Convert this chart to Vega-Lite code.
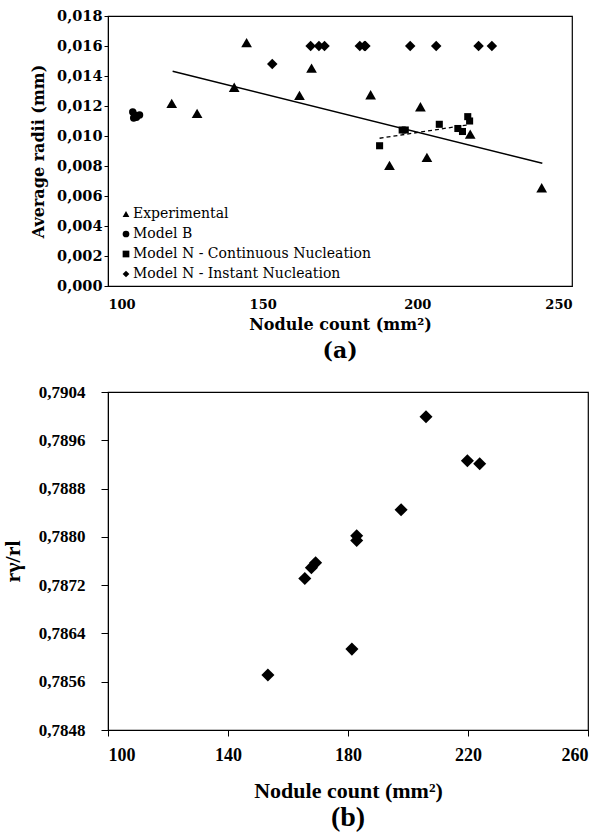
{
  "$schema": "https://vega.github.io/schema/vega-lite/v6.json",
  "background": "white",
  "padding": {"left": 0, "top": 7, "right": 10, "bottom": 2},
  "spacing": 19,
  "config": {
    "font": "Liberation Serif",
    "view": {"stroke": "black", "strokeWidth": 1.2},
    "axis": {"grid": false, "domainColor": "black", "tickColor": "black", "labelColor": "black", "titleColor": "black", "labelFontWeight": "bold", "titleFontWeight": "bold", "labelOverlap": false}
  },
  "datasets": {
    "radii": [
      {"series": "Experimental", "nodules": 120.6, "radius": 0.01218},
      {"series": "Experimental", "nodules": 128.8, "radius": 0.01151},
      {"series": "Experimental", "nodules": 140.8, "radius": 0.01325},
      {"series": "Experimental", "nodules": 144.8, "radius": 0.01622},
      {"series": "Experimental", "nodules": 161.9, "radius": 0.01271},
      {"series": "Experimental", "nodules": 165.8, "radius": 0.01453},
      {"series": "Experimental", "nodules": 184.9, "radius": 0.01275},
      {"series": "Experimental", "nodules": 191.0, "radius": 0.00804},
      {"series": "Experimental", "nodules": 201.0, "radius": 0.01195},
      {"series": "Experimental", "nodules": 203.1, "radius": 0.00858},
      {"series": "Experimental", "nodules": 217.1, "radius": 0.01013},
      {"series": "Experimental", "nodules": 240.2, "radius": 0.00655},
      {"series": "Model B", "nodules": 108.0, "radius": 0.01160},
      {"series": "Model B", "nodules": 108.3, "radius": 0.01120},
      {"series": "Model B", "nodules": 108.6, "radius": 0.01140},
      {"series": "Model B", "nodules": 109.2, "radius": 0.01125},
      {"series": "Model B", "nodules": 110.2, "radius": 0.01140},
      {"series": "Model N - Continuous Nucleation", "nodules": 187.8, "radius": 0.00935},
      {"series": "Model N - Continuous Nucleation", "nodules": 195.1, "radius": 0.01040},
      {"series": "Model N - Continuous Nucleation", "nodules": 196.1, "radius": 0.01040},
      {"series": "Model N - Continuous Nucleation", "nodules": 207.1, "radius": 0.01078},
      {"series": "Model N - Continuous Nucleation", "nodules": 213.1, "radius": 0.01050},
      {"series": "Model N - Continuous Nucleation", "nodules": 214.6, "radius": 0.01030},
      {"series": "Model N - Continuous Nucleation", "nodules": 216.3, "radius": 0.01129},
      {"series": "Model N - Continuous Nucleation", "nodules": 216.9, "radius": 0.01100},
      {"series": "Model N - Instant Nucleation", "nodules": 153.1, "radius": 0.0148},
      {"series": "Model N - Instant Nucleation", "nodules": 165.5, "radius": 0.0160},
      {"series": "Model N - Instant Nucleation", "nodules": 168.2, "radius": 0.0160},
      {"series": "Model N - Instant Nucleation", "nodules": 170.0, "radius": 0.0160},
      {"series": "Model N - Instant Nucleation", "nodules": 181.4, "radius": 0.0160},
      {"series": "Model N - Instant Nucleation", "nodules": 182.9, "radius": 0.0160},
      {"series": "Model N - Instant Nucleation", "nodules": 183.2, "radius": 0.0160},
      {"series": "Model N - Instant Nucleation", "nodules": 197.7, "radius": 0.0160},
      {"series": "Model N - Instant Nucleation", "nodules": 206.1, "radius": 0.0160},
      {"series": "Model N - Instant Nucleation", "nodules": 219.8, "radius": 0.0160},
      {"series": "Model N - Instant Nucleation", "nodules": 224.1, "radius": 0.0160}
    ],
    "trendExp": [
      {"nodules": 120.9, "radius": 0.01431},
      {"nodules": 240.4, "radius": 0.00818}
    ],
    "trendCont": [
      {"nodules": 187.8, "radius": 0.00985},
      {"nodules": 216.0, "radius": 0.01073}
    ],
    "ratio": [
      {"nodules": 153.3, "ratio": 0.78571},
      {"nodules": 165.6, "ratio": 0.78731},
      {"nodules": 167.8, "ratio": 0.78749},
      {"nodules": 169.2, "ratio": 0.78757},
      {"nodules": 181.3, "ratio": 0.78614},
      {"nodules": 182.9, "ratio": 0.78802},
      {"nodules": 182.9, "ratio": 0.78794},
      {"nodules": 197.7, "ratio": 0.78845},
      {"nodules": 206.0, "ratio": 0.78999},
      {"nodules": 219.8, "ratio": 0.78926},
      {"nodules": 223.9, "ratio": 0.78921}
    ]
  },
  "vconcat": [
    {
      "width": 464,
      "height": 270,
      "title": {"text": "(a)", "orient": "bottom", "anchor": "middle", "font": "DejaVu Serif", "fontSize": 22, "fontWeight": "bold", "color": "black", "offset": 9},
      "encoding": {
        "x": {"field": "nodules", "type": "quantitative", "scale": {"domain": [100, 250], "nice": false, "zero": false},
          "axis": {"values": [100, 150, 200, 250], "title": "Nodule count (mm²)", "ticks": false, "labelOverlap": false, "labelPadding": 12, "labelFont": "DejaVu Serif", "labelFontSize": 13, "titleFont": "DejaVu Serif", "titleFontSize": 16, "titlePadding": 5}},
        "y": {"field": "radius", "type": "quantitative", "scale": {"domain": [0, 0.018], "nice": false},
          "axis": {"values": [0, 0.002, 0.004, 0.006, 0.008, 0.010, 0.012, 0.014, 0.016, 0.018], "labelExpr": "replace(format(datum.value, '.3f'), '.', ',')", "labelOverlap": false, "labelBound": false, "title": "Average radii  (mm)", "tickSize": 4, "labelPadding": 2, "labelFont": "DejaVu Serif", "labelFontSize": 14.5, "titleFont": "DejaVu Serif", "titleFontSize": 16, "titlePadding": 10}}
      },
      "layer": [
        {
          "data": {"name": "trendExp"},
          "mark": {"type": "line", "color": "black", "strokeWidth": 1.5}
        },
        {
          "data": {"name": "trendCont"},
          "mark": {"type": "line", "color": "black", "strokeWidth": 1.3, "strokeDash": [4, 3]}
        },
        {
          "data": {"name": "radii"},
          "transform": [{"filter": "datum.series === 'Experimental'"}],
          "mark": {"type": "point", "filled": true, "opacity": 1, "color": "black", "size": 115},
          "encoding": {
            "shape": {"field": "series", "type": "nominal",
              "scale": {"domain": ["Experimental", "Model B", "Model N - Continuous Nucleation", "Model N - Instant Nucleation"], "range": ["triangle-up", "circle", "square", "diamond"]},
              "legend": {"title": null, "orient": "none", "legendX": 11, "legendY": 191, "labelFont": "DejaVu Serif", "labelFontSize": 14, "labelColor": "black", "labelLimit": 0, "symbolSize": 45, "symbolFillColor": "black", "symbolStrokeColor": "black", "rowPadding": 6, "labelOffset": 0}}
          }
        },
        {
          "data": {"name": "radii"},
          "transform": [{"filter": "datum.series === 'Model B'"}],
          "mark": {"type": "point", "filled": true, "opacity": 1, "color": "black", "size": 55},
          "encoding": {"shape": {"field": "series", "type": "nominal"}}
        },
        {
          "data": {"name": "radii"},
          "transform": [{"filter": "datum.series === 'Model N - Continuous Nucleation'"}],
          "mark": {"type": "point", "filled": true, "opacity": 1, "color": "black", "size": 50},
          "encoding": {"shape": {"field": "series", "type": "nominal"}}
        },
        {
          "data": {"name": "radii"},
          "transform": [{"filter": "datum.series === 'Model N - Instant Nucleation'"}],
          "mark": {"type": "point", "filled": true, "opacity": 1, "color": "black", "size": 110},
          "encoding": {"shape": {"field": "series", "type": "nominal"}}
        }
      ]
    },
    {
      "width": 480,
      "height": 338,
      "title": {"text": "(b)", "orient": "bottom", "anchor": "middle", "font": "Liberation Serif", "fontSize": 28, "fontWeight": "bold", "color": "black", "offset": 3},
      "data": {"name": "ratio"},
      "mark": {"type": "point", "filled": true, "opacity": 1, "color": "black", "shape": "diamond", "size": 170},
      "encoding": {
        "x": {"field": "nodules", "type": "quantitative", "scale": {"domain": [100, 260], "nice": false, "zero": false},
          "axis": {"values": [100, 140, 180, 220, 260], "title": "Nodule count (mm²)", "tickSize": 6, "labelOverlap": false, "labelPadding": 10, "labelFontSize": 18, "titleFontSize": 22, "titlePadding": 16}},
        "y": {"field": "ratio", "type": "quantitative", "scale": {"domain": [0.7848, 0.7904], "nice": false, "zero": false},
          "axis": {"values": [0.7848, 0.7856, 0.7864, 0.7872, 0.788, 0.7888, 0.7896, 0.7904], "labelExpr": "replace(format(datum.value, '.4f'), '.', ',')", "labelOverlap": false, "title": "rγ/rl", "tickSize": 7, "labelPadding": 16, "labelFontSize": 17, "titleFontSize": 22, "titlePadding": 14}}
      }
    }
  ]
}
